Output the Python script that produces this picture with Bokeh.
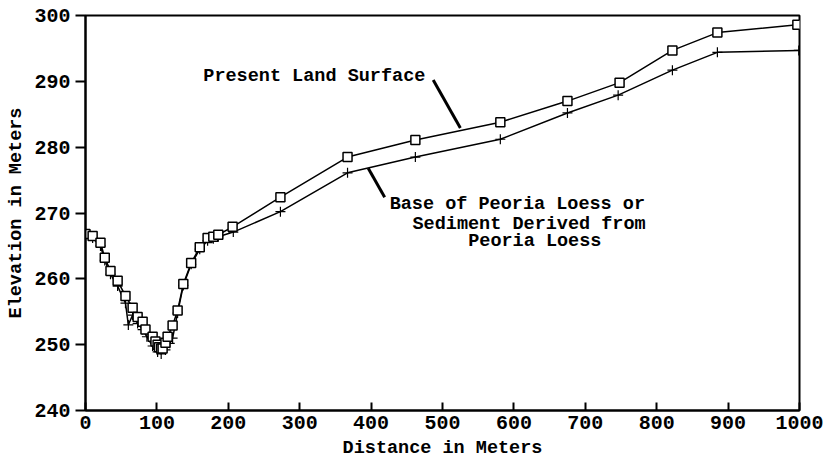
from bokeh.plotting import figure
from bokeh.models import Range1d, FixedTicker, ColumnDataSource
from bokeh.core.properties import value
from bokeh.embed import file_html
from bokeh.resources import INLINE

# Present Land Surface (squares)
surface_x = [0, 10, 21, 27, 35, 45, 56, 66, 73, 80, 84, 94, 98, 101, 103, 106, 108, 112, 115,
             122, 129, 137, 148, 160, 171, 179, 186, 206, 273, 367, 462, 581, 675, 748, 822, 885, 997]
surface_y = [266.8, 266.5, 265.5, 263.2, 261.2, 259.7, 257.4, 255.6, 254.2, 253.5, 252.3, 251.2, 250.5,
             250.0, 249.6, 249.4, 249.4, 250.3, 251.2, 252.9, 255.2, 259.2, 262.4, 264.8, 266.2, 266.4,
             266.7, 267.9, 272.4, 278.5, 281.1, 283.8, 287.0, 289.8, 294.7, 297.4, 298.6]

# Base of Peoria Loess (plus markers)
base_x = [0, 10, 21, 27, 35, 45, 56, 60, 66, 73, 80, 86, 94, 101, 106, 112, 118, 122, 129, 137,
          148, 160, 171, 179, 186, 207, 273, 367, 462, 581, 675, 746, 822, 885, 999]
base_y = [266.6, 266.2, 265.0, 262.8, 260.7, 258.9, 256.3, 253.0, 254.5, 253.2, 252.3, 251.2, 249.8,
          248.9, 248.6, 249.2, 250.2, 251.0, 254.8, 259.0, 262.2, 264.5, 265.8, 266.1, 266.4, 267.1,
          270.2, 276.1, 278.5, 281.2, 285.2, 287.9, 291.7, 294.4, 294.7]

x_ticks = [0, 100, 200, 300, 400, 500, 600, 700, 800, 900, 1000]
y_ticks = [240, 250, 260, 270, 280, 290, 300]

# annotation texts and their anchor positions (data units)
label_texts = ["Present Land Surface", "Base of Peoria Loess or", "Sediment Derived from", "Peoria Loess"]
label_x = [165, 426, 458, 536]
label_y = [290.8, 271.3, 268.3, 265.6]

# leader lines (data units)
leader_x0 = [487, 396]
leader_y0 = [290.2, 276.8]
leader_x1 = [525, 419]
leader_y1 = [282.9, 272.4]

FONT = "Liberation Mono"

p = figure(width=834, height=461, output_backend="svg", toolbar_location=None,
           x_range=Range1d(0, 1000), y_range=Range1d(240, 300),
           min_border_left=85, min_border_right=35, min_border_top=15, min_border_bottom=50)
p.background_fill_color = "white"
p.border_fill_color = "white"
p.grid.visible = False
p.outline_line_color = "black"
p.outline_line_width = 2

p.xaxis.ticker = FixedTicker(ticks=x_ticks)
p.yaxis.ticker = FixedTicker(ticks=y_ticks)
for ax in (p.xaxis[0], p.yaxis[0]):
    ax.minor_tick_line_color = None
    ax.axis_line_color = "black"
    ax.axis_line_width = 2
    ax.major_tick_line_color = "black"
    ax.major_tick_line_width = 2
    ax.major_label_text_font = FONT
    ax.major_label_text_font_style = "bold"
    ax.major_label_text_font_size = "20px"
    ax.major_label_text_color = "black"
    ax.axis_label_text_font = FONT
    ax.axis_label_text_font_style = "bold"
    ax.axis_label_text_font_size = "18.5px"
    ax.axis_label_text_color = "black"

p.xaxis.major_tick_in = 8
p.xaxis.major_tick_out = 0
p.xaxis.major_label_standoff = 5
p.xaxis.axis_label = "Distance in Meters"
p.xaxis.axis_label_standoff = 6

p.yaxis.major_tick_in = 0
p.yaxis.major_tick_out = 10
p.yaxis.major_label_standoff = 5
p.yaxis.axis_label = "Elevation in Meters"
p.yaxis.axis_label_standoff = 4

src_s = ColumnDataSource(dict(x=surface_x, y=surface_y))
src_b = ColumnDataSource(dict(x=base_x, y=base_y))

p.line("x", "y", source=src_b, line_color="black", line_width=1.5)
p.line("x", "y", source=src_s, line_color="black", line_width=1.5)
p.scatter("x", "y", source=src_b, marker="cross", size=10, line_color="black", line_width=1.2)
p.scatter("x", "y", source=src_s, marker="square", size=9, fill_color="white",
          line_color="black", line_width=1.5)

p.segment(x0=leader_x0, y0=leader_y0, x1=leader_x1, y1=leader_y1, line_color="black", line_width=3)

p.text(x=label_x, y=label_y, text=label_texts, text_font=value(FONT), text_font_style="bold",
       text_font_size="18.5px", text_color="black", text_align="left", text_baseline="middle")

open("out.html", "w").write(file_html(p, INLINE))
